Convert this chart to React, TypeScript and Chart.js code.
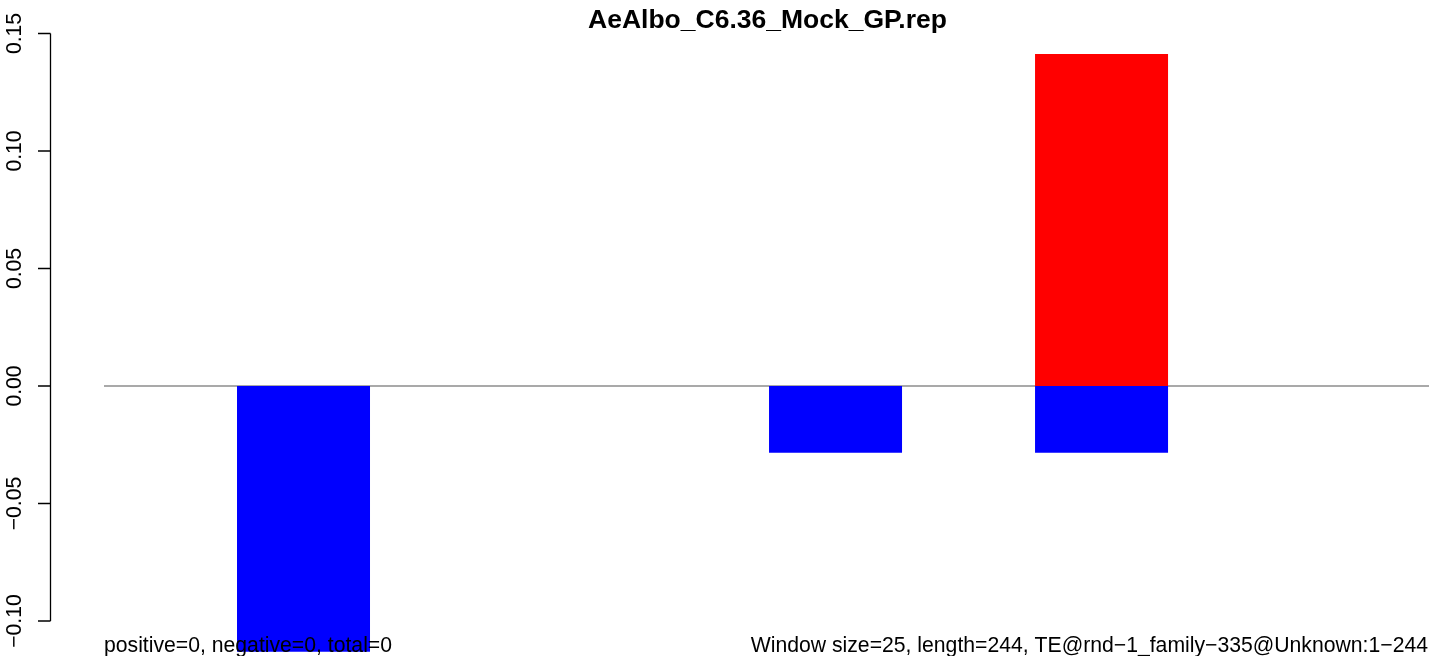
import React, { useEffect, useRef } from 'react';
import { Chart, registerables } from 'chart.js';

Chart.register(...registerables);

// ---- data ----
const TITLE = 'AeAlbo_C6.36_Mock_GP.rep';
const slots = [1, 2, 3, 4, 5];
const positiveValues: (number | null)[] = [null, null, null, 0.1413, null];
const negativeValues: (number | null)[] = [-0.1131, null, -0.0284, -0.0284, null];
const yTickValues = [-0.1, -0.05, 0, 0.05, 0.1, 0.15];
const yTickLabels = ['\u22120.10', '\u22120.05', '0.00', '0.05', '0.10', '0.15'];
const leftNote = 'positive=0, negative=0, total=0';
const rightNote = 'Window size=25, length=244, TE@rnd\u22121_family\u2212335@Unknown:1\u2212244';

const FONT = '"Liberation Sans", Arial, Helvetica, sans-serif';

const rPlotPlugin = {
  id: 'rPlot',
  beforeDatasetsDraw(chart: any) {
    const { ctx, chartArea, scales } = chart;
    const y0 = scales.y.getPixelForValue(0);
    ctx.save();
    ctx.strokeStyle = '#a9a9a9';
    ctx.lineWidth = 2;
    ctx.beginPath();
    ctx.moveTo(chartArea.left, y0);
    ctx.lineTo(chartArea.right, y0);
    ctx.stroke();
    ctx.restore();
  },
  afterDraw(chart: any) {
    const { ctx, chartArea, scales } = chart;
    const ys = scales.y;
    const axisX = 50.5;
    ctx.save();
    // y axis line and ticks
    ctx.strokeStyle = '#000';
    ctx.lineWidth = 1.3;
    ctx.beginPath();
    ctx.moveTo(axisX, ys.getPixelForValue(yTickValues[0]));
    ctx.lineTo(axisX, ys.getPixelForValue(yTickValues[yTickValues.length - 1]));
    yTickValues.forEach((v) => {
      const py = ys.getPixelForValue(v);
      ctx.moveTo(axisX, py);
      ctx.lineTo(axisX - 12.5, py);
    });
    ctx.stroke();
    // tick labels (rotated)
    ctx.fillStyle = '#000';
    ctx.font = `21.2px ${FONT}`;
    ctx.textAlign = 'center';
    ctx.textBaseline = 'alphabetic';
    yTickValues.forEach((v, i) => {
      const py = ys.getPixelForValue(v);
      ctx.save();
      ctx.translate(21, py);
      ctx.rotate(-Math.PI / 2);
      ctx.fillText(yTickLabels[i], 0, 0);
      ctx.restore();
    });
    // title
    ctx.font = `bold 26.5px ${FONT}`;
    ctx.textAlign = 'center';
    ctx.fillText(TITLE, (chartArea.left + chartArea.right) / 2 + 1, 28);
    // bottom notes
    ctx.font = `21.2px ${FONT}`;
    ctx.textAlign = 'left';
    ctx.fillText(leftNote, chartArea.left, 652);
    ctx.textAlign = 'right';
    ctx.fillText(rightNote, chartArea.right - 1, 652);
    ctx.restore();
  },
};

export default function App() {
  const canvasRef = useRef<HTMLCanvasElement | null>(null);

  useEffect(() => {
    document.body.style.margin = '0';
    document.body.style.overflow = 'hidden';
    const canvas = canvasRef.current;
    if (!canvas) return;

    // each slot spans one x unit; the bar occupies its right half
    const toPoints = (vals: (number | null)[]) =>
      slots.map((s, i) => ({ x: s - 0.25, y: vals[i] }));

    const chart = new Chart(canvas, {
      type: 'bar',
      data: {
        datasets: [
          {
            label: 'positive',
            data: toPoints(positiveValues) as any,
            backgroundColor: '#ff0000',
            borderWidth: 0,
            grouped: false,
            categoryPercentage: 0.5,
            barPercentage: 1,
          },
          {
            label: 'negative',
            data: toPoints(negativeValues) as any,
            backgroundColor: '#0000ff',
            borderWidth: 0,
            grouped: false,
            categoryPercentage: 0.5,
            barPercentage: 1,
          },
        ],
      },
      options: {
        responsive: false,
        animation: false,
        layout: { padding: { left: 104, top: 33.5, right: 0, bottom: 0 } },
        plugins: {
          legend: { display: false },
          title: { display: false },
          tooltip: { enabled: false },
        },
        scales: {
          x: {
            type: 'linear',
            display: false,
            offset: false,
            min: 0,
            max: 4.981,
            afterBuildTicks: (scale: any) => {
              scale.ticks = [{ value: scale.min }, { value: scale.max }];
            },
          },
          y: {
            type: 'linear',
            display: false,
            min: -0.1149,
            max: 0.15,
          },
        },
      },
      plugins: [rPlotPlugin],
    });
    return () => chart.destroy();
  }, []);

  return (
    <div style={{ width: 1429, height: 656, background: '#fff' }}>
      <canvas ref={canvasRef} width={1429} height={656} style={{ display: 'block' }} />
    </div>
  );
}
